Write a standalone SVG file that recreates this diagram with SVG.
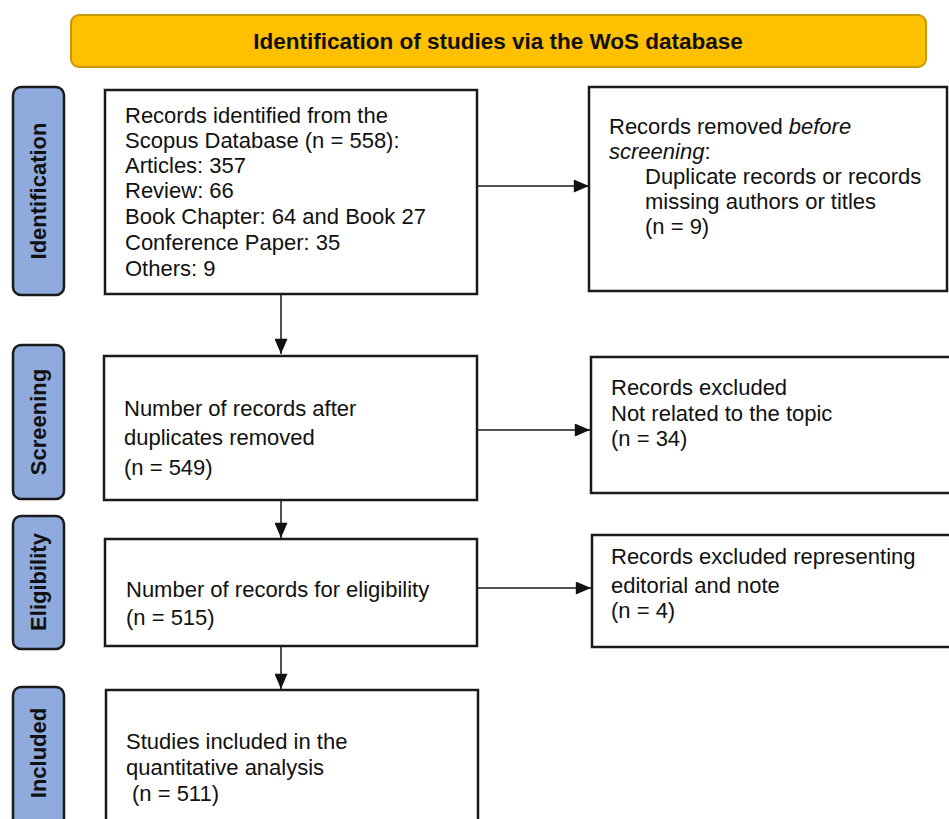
<svg xmlns="http://www.w3.org/2000/svg" width="949" height="819" viewBox="0 0 949 819">
<defs>
<style>
.box{fill:#fff;stroke:#1a1a1a;stroke-width:2.5}
.side{fill:#8faadc;stroke:#1a1a1a;stroke-width:2.5}
.t{font-family:"Liberation Sans",Arial,sans-serif;font-size:22px;fill:#111}
.sl{font-family:"Liberation Sans",Arial,sans-serif;font-size:22px;font-weight:bold;fill:#111}
.hd{font-family:"Liberation Sans",Arial,sans-serif;font-size:22.5px;font-weight:bold;fill:#111}
.c{stroke:#1a1a1a;stroke-width:1.5;fill:none}
</style>
<marker id="ahl" viewBox="0 0 14 12" refX="14" refY="6" markerWidth="16" markerHeight="13" markerUnits="userSpaceOnUse" orient="auto">
<path d="M0,0 L14,6 L0,12 Z" fill="#111"/>
</marker>
</defs>
<rect width="949" height="819" fill="#fff"/>

<g id="header">
<rect x="71" y="15" width="855" height="52" rx="8" fill="#ffc000" stroke="#c99700" stroke-width="2"/>
<text class="hd" x="498" y="49" text-anchor="middle">Identification of studies via the WoS database</text>
</g>

<g id="stage-identification">
<rect class="side" x="13" y="87" width="51" height="208" rx="8"/>
<text class="sl" transform="translate(46,191) rotate(-90)" text-anchor="middle">Identification</text>
</g>
<g id="stage-screening">
<rect class="side" x="13" y="345" width="51" height="154" rx="8"/>
<text class="sl" transform="translate(46,422) rotate(-90)" text-anchor="middle">Screening</text>
</g>
<g id="stage-eligibility">
<rect class="side" x="13" y="516" width="51" height="133" rx="8"/>
<text class="sl" transform="translate(46,582) rotate(-90)" text-anchor="middle">Eligibility</text>
</g>
<g id="stage-included">
<rect class="side" x="13" y="687" width="51" height="150" rx="8"/>
<text class="sl" transform="translate(46,753) rotate(-90)" text-anchor="middle">Included</text>
</g>

<g id="records-identified">
<rect class="box" x="105" y="90" width="372" height="204"/>
<text class="t" x="125" y="123">Records identified from the</text>
<text class="t" x="125" y="148">Scopus Database (n = 558):</text>
<text class="t" x="125" y="173">Articles: 357</text>
<text class="t" x="125" y="198">Review: 66</text>
<text class="t" x="125" y="224">Book Chapter: 64 and Book 27</text>
<text class="t" x="125" y="250">Conference Paper: 35</text>
<text class="t" x="125" y="276">Others: 9</text>
</g>

<g id="records-removed">
<rect class="box" x="589" y="87" width="358" height="204"/>
<text class="t" x="609" y="134">Records removed <tspan font-style="italic">before</tspan></text>
<text class="t" x="609" y="159"><tspan font-style="italic">screening</tspan>:</text>
<text class="t" x="645" y="184">Duplicate records or records</text>
<text class="t" x="645" y="209">missing authors or titles</text>
<text class="t" x="645" y="234">(n = 9)</text>
</g>

<g id="after-duplicates">
<rect class="box" x="104" y="356" width="373" height="144"/>
<text class="t" x="124" y="416">Number of records after</text>
<text class="t" x="124" y="445">duplicates removed</text>
<text class="t" x="124" y="475">(n = 549)</text>
</g>

<g id="excluded-topic">
<rect class="box" x="591" y="357" width="360" height="136"/>
<text class="t" x="611" y="395">Records excluded</text>
<text class="t" x="611" y="421">Not related to the topic</text>
<text class="t" x="611" y="446">(n = 34)</text>
</g>

<g id="eligibility">
<rect class="box" x="105" y="539" width="372" height="107"/>
<text class="t" x="126" y="597">Number of records for eligibility</text>
<text class="t" x="126" y="625">(n = 515)</text>
</g>

<g id="excluded-editorial">
<rect class="box" x="592" y="535" width="360" height="112"/>
<text class="t" x="611" y="564">Records excluded representing</text>
<text class="t" x="611" y="593">editorial and note</text>
<text class="t" x="611" y="618">(n = 4)</text>
</g>

<g id="included">
<rect class="box" x="106" y="690" width="372" height="140"/>
<text class="t" x="126" y="749">Studies included in the</text>
<text class="t" x="126" y="775">quantitative analysis</text>
<text class="t" x="132" y="801">(n = 511)</text>
</g>

<g id="connectors">
<line class="c" x1="478" y1="186" x2="589" y2="186" marker-end="url(#ahl)"/>
<line class="c" x1="281" y1="294" x2="281" y2="354" marker-end="url(#ahl)"/>
<line class="c" x1="478" y1="430" x2="590" y2="430" marker-end="url(#ahl)"/>
<line class="c" x1="281" y1="500" x2="281" y2="538" marker-end="url(#ahl)"/>
<line class="c" x1="478" y1="588" x2="591" y2="588" marker-end="url(#ahl)"/>
<line class="c" x1="281" y1="646" x2="281" y2="689" marker-end="url(#ahl)"/>
</g>
</svg>
